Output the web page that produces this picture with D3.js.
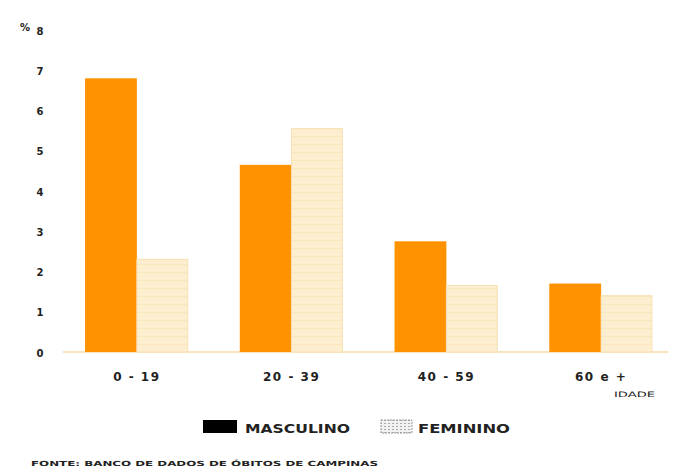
<!DOCTYPE html>
<html><head><meta charset="utf-8">
<script src="https://cdn.jsdelivr.net/npm/d3@7"></script>
<style>body{margin:0;background:#fff}svg{display:block}text{font-family:"DejaVu Sans",Arial,sans-serif;font-weight:bold;fill:#222}</style>
</head><body>
<svg id="c" width="681" height="472"></svg>
<script>
const categories = ["0 - 19", "20 - 39", "40 - 59", "60 e +"];
const masculino = [6.8, 4.65, 2.75, 1.7];
const feminino = [2.3, 5.55, 1.65, 1.4];
const yTicks = [0, 1, 2, 3, 4, 5, 6, 7, 8];
const seriesNames = ["MASCULINO", "FEMININO"];

const svg = d3.select("#c");
const defs = svg.append("defs");
const pat = defs.append("pattern").attr("id","fem").attr("patternUnits","userSpaceOnUse").attr("width",8).attr("height",8);
pat.append("rect").attr("width",8).attr("height",8).attr("fill","#fdeecf");
pat.append("line").attr("x1",0).attr("x2",8).attr("y1",0.5).attr("y2",0.5).attr("stroke","#fae6bd").attr("stroke-width",1);
const pat2 = defs.append("pattern").attr("id","femleg").attr("patternUnits","userSpaceOnUse").attr("width",4).attr("height",3);
pat2.append("rect").attr("width",4).attr("height",3).attr("fill","#f2f2f2");
pat2.append("rect").attr("width",2).attr("height",1).attr("fill","#aaa");

const x = d3.scaleBand().domain(categories).range([59.5, 678.5]).paddingInner(0.33).paddingOuter(0.165);
const xs = d3.scaleBand().domain(seriesNames).range([0, x.bandwidth()]);
const y = d3.scaleLinear().domain([0, 8]).range([352, 30]);

// baseline
svg.append("line").attr("x1",63).attr("x2",668).attr("y1",y(0)).attr("y2",y(0)).attr("stroke","#f8e4bb").attr("stroke-width",2);

// y tick labels
const yAxis = d3.axisLeft(y).tickValues(yTicks).tickSize(0).tickPadding(0).tickFormat(d3.format("d"));
const ga = svg.append("g").attr("transform","translate(44,0)").call(yAxis);
ga.select(".domain").remove();
ga.selectAll("text").attr("font-size",10).attr("font-family","DejaVu Sans, Arial, sans-serif").attr("font-weight","bold").attr("fill","#222").attr("text-anchor","middle").attr("x",-4).attr("dy","0.4em");
svg.append("text").attr("x",20).attr("y",y(8)+1).attr("font-size",10).text("%");

// bars
const g = svg.append("g");
categories.forEach((c,i)=>{
  g.append("rect").attr("x",x(c)+xs("MASCULINO")).attr("y",y(masculino[i])).attr("width",xs.bandwidth()).attr("height",y(0)-y(masculino[i])).attr("fill","#ff9200");
  g.append("rect").attr("x",x(c)+xs("FEMININO")).attr("y",y(feminino[i])).attr("width",xs.bandwidth()-1).attr("height",y(0)-y(feminino[i])).attr("fill","url(#fem)").attr("stroke","#f8e0b2").attr("stroke-width",1);
});

// x labels
const xAxis = d3.axisBottom(x).tickSize(0).tickPadding(0);
const gx = svg.append("g").attr("transform",`translate(0,${y(0)+29})`).call(xAxis);
gx.select(".domain").remove();
gx.selectAll("text").attr("font-size",12).attr("font-family","DejaVu Sans, Arial, sans-serif").attr("font-weight","bold").attr("fill","#222").attr("dy","0").attr("letter-spacing","1.5px");
svg.append("text").attr("x",614).attr("y",397).attr("font-size",7.5).attr("textLength",41).attr("lengthAdjust","spacingAndGlyphs").style("font-weight","normal").text("IDADE");

// legend
svg.append("rect").attr("x",203).attr("y",420).attr("width",34).attr("height",13).attr("fill","#000");
svg.append("text").attr("x",245).attr("y",433).attr("font-size",12.5).attr("textLength",105).attr("lengthAdjust","spacingAndGlyphs").text(seriesNames[0]);
svg.append("rect").attr("x",381).attr("y",420).attr("width",31).attr("height",13).attr("fill","url(#femleg)").attr("stroke","#999").attr("stroke-dasharray","2,1");
svg.append("text").attr("x",418).attr("y",433).attr("font-size",12.5).attr("textLength",92).attr("lengthAdjust","spacingAndGlyphs").text(seriesNames[1]);

// source
svg.append("text").attr("x",31).attr("y",466).attr("font-size",7).attr("textLength",347).attr("lengthAdjust","spacingAndGlyphs").text("FONTE: BANCO DE DADOS DE ÓBITOS DE CAMPINAS");
</script>
</body></html>
